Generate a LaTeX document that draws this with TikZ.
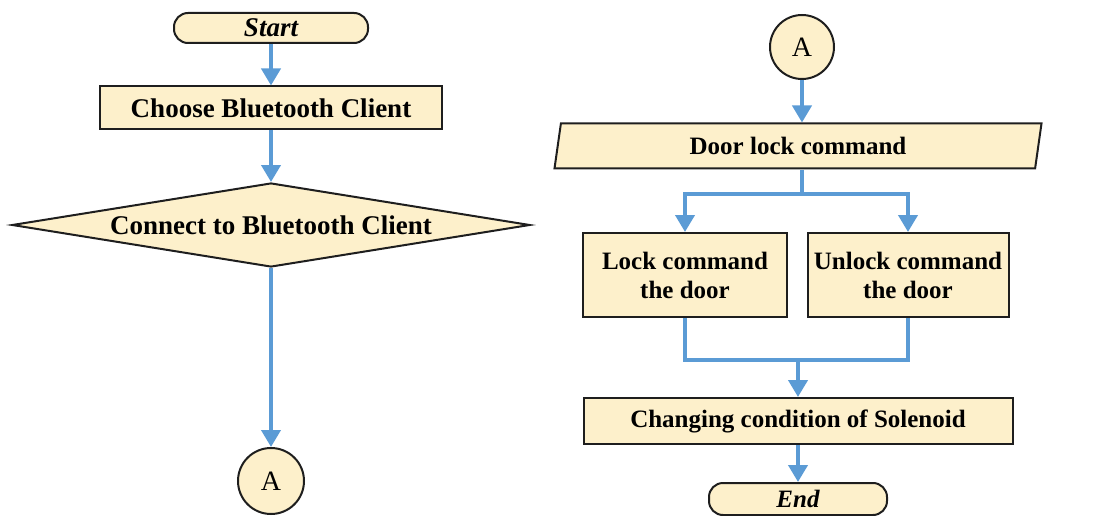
\documentclass[tikz,border=0pt]{standalone}
\usepackage{fontspec}
\setmainfont{Liberation Serif}
\usetikzlibrary{arrows.meta,shapes.geometric,calc}
\definecolor{boxfill}{RGB}{253,240,203}
\definecolor{flowblue}{RGB}{91,155,213}
\definecolor{edge}{RGB}{30,30,30}
\tikzset{
  base/.style={draw=edge,line width=2pt,fill=boxfill,align=center,inner sep=0pt},
  lefttext/.style={font=\fontsize{27}{31}\selectfont\bfseries},
  righttext/.style={font=\fontsize{25}{29}\selectfont\bfseries},
  procbox/.style={base,rectangle},
  termbox/.style={base,rectangle,rounded corners=14pt},
  decbox/.style={base,diamond,aspect=6},
  iobox/.style={base,trapezium,trapezium left angle=70,trapezium right angle=110,trapezium stretches body},
  connbox/.style={base,circle,font=\fontsize{28}{32}\selectfont},
  flow/.style={draw=flowblue,line width=4pt,-{Triangle[width=19pt,length=17pt]}},
  flowline/.style={draw=flowblue,line width=4pt}
}
\begin{document}
\begin{tikzpicture}[x=1pt,y=-1pt]
\useasboundingbox (0,0) rectangle (1093,516);

% left column
\node[termbox,lefttext,minimum width=194pt,minimum height=30pt] (start) at (271,28) {\itshape Start};
\node[procbox,lefttext,minimum width=342pt,minimum height=43pt] (choose) at (271,108) {Choose Bluetooth Client};
\node[decbox,lefttext,minimum width=518pt,minimum height=84pt] (connect) at (271,225) {Connect to Bluetooth Client};
\node[connbox,minimum size=66pt] (aout) at (271,481) {A};

\draw[flow] (start) -- (choose);
\draw[flow] (choose) -- (connect);
\draw[flow] (connect) -- (aout);

% right column
\node[connbox,minimum size=64pt] (ain) at (802,47) {A};
\node[iobox,righttext,minimum width=487pt,minimum height=45pt] (door) at (798,146) {Door lock command};
\node[procbox,righttext,minimum width=204pt,minimum height=84pt] (lock) at (685,275) {Lock command\\the door};
\node[procbox,righttext,minimum width=201pt,minimum height=84pt] (unlock) at (908,275) {Unlock command\\the door};
\node[procbox,righttext,minimum width=429pt,minimum height=46pt] (solenoid) at (798,421) {Changing condition of Solenoid};
\node[termbox,righttext,minimum width=178pt,minimum height=32pt] (finish) at (798,499) {\itshape End};

\draw[flow] (ain) -- (ain |- door.north);
\coordinate (split) at ($(ain |- door.south)+(0,24)$);
\draw[flowline] (ain |- door.south) -- (split);
\draw[flow] (split) -| (lock.north);
\draw[flow] (split) -| (unlock.north);
\coordinate (merge) at ($(lock.south)+(0,42)$);
\draw[flowline] (lock.south) |- (merge -| unlock.south) -- (unlock.south);
\draw[flow] (merge -| solenoid.north) -- (solenoid.north);
\draw[flow] (solenoid) -- (finish);
\end{tikzpicture}
\end{document}
